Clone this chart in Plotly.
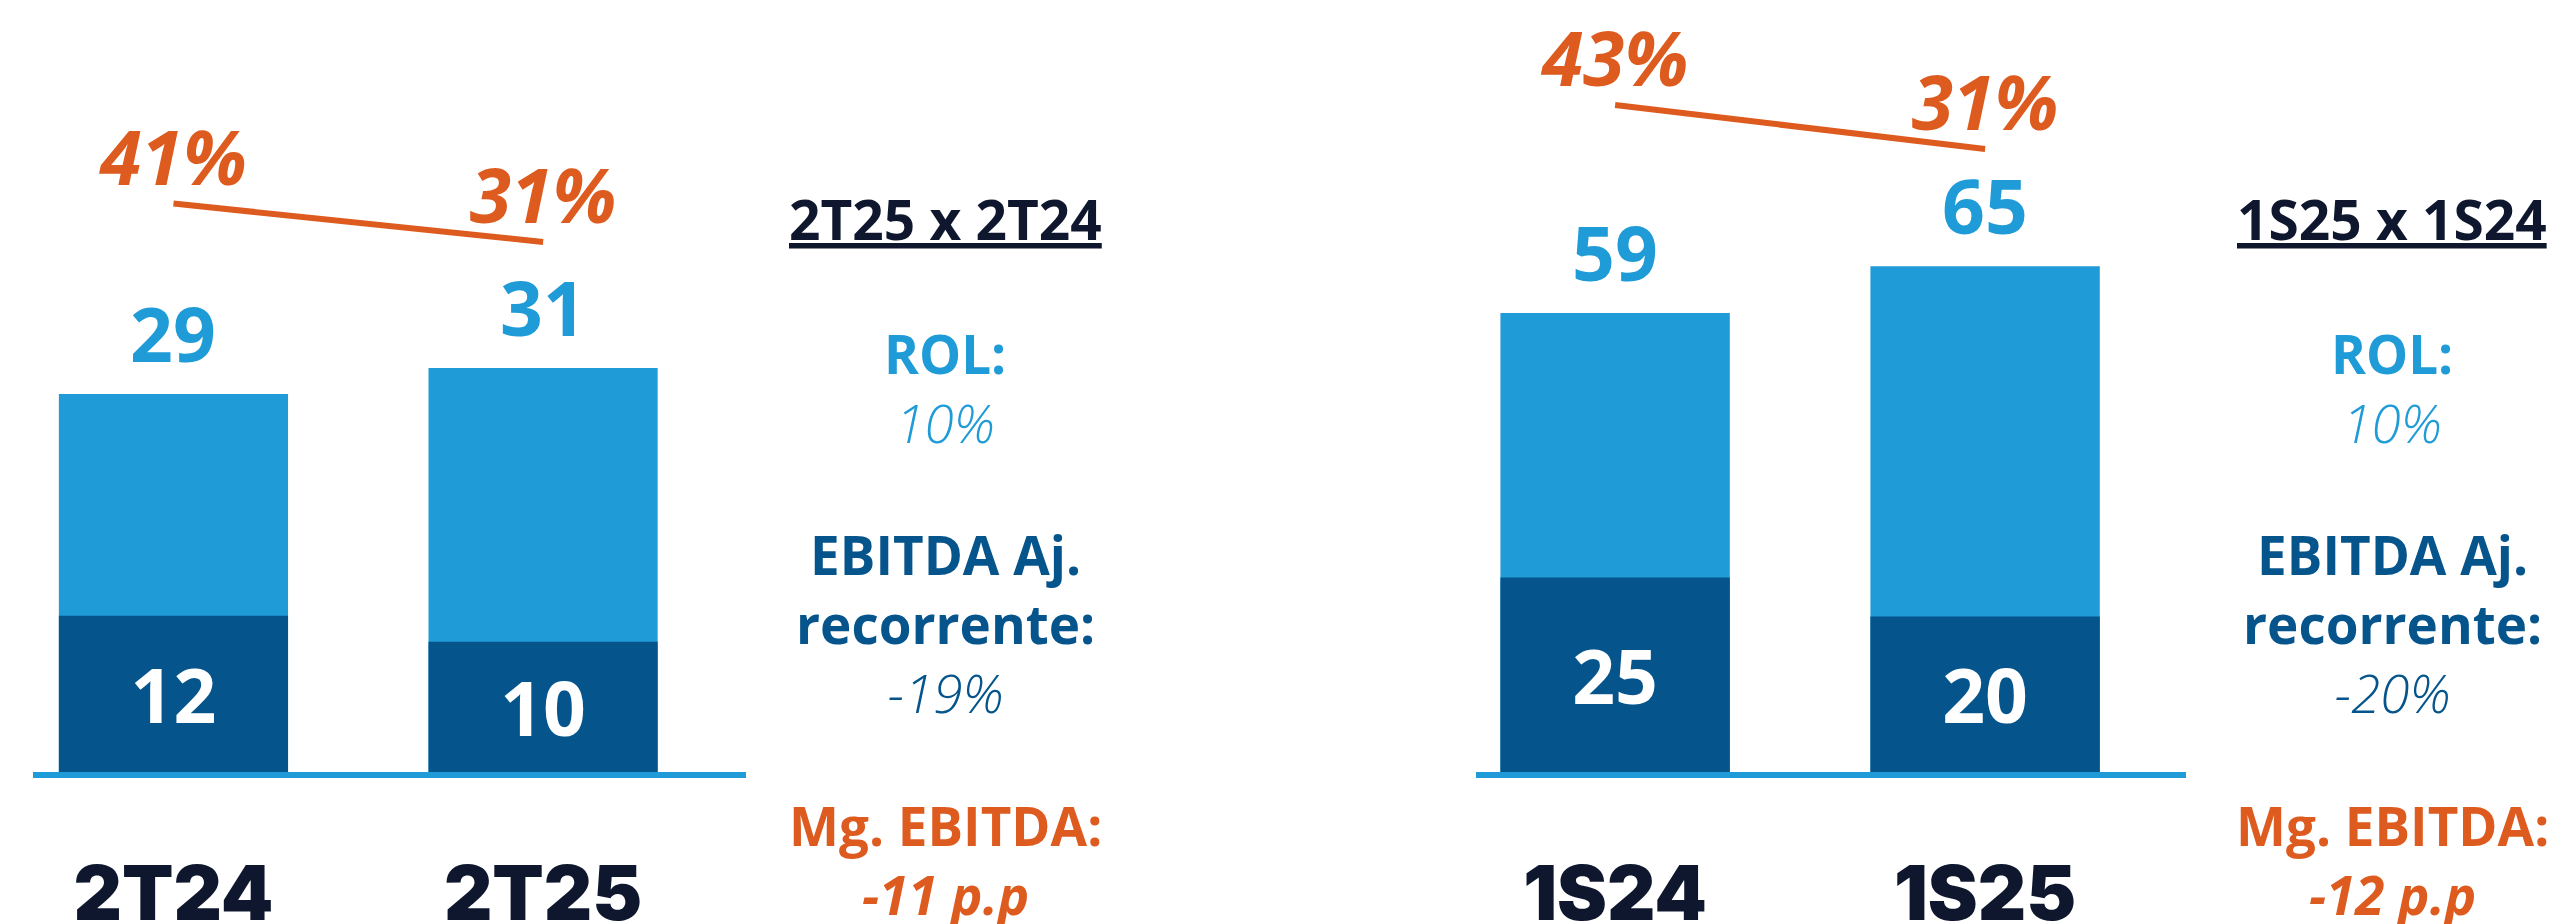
import plotly.graph_objects as go

# dados trimestrais (2T) e semestrais (1S), R$ mi
periodos_tri = ["2T24", "2T25"]
rol_tri = [29, 31]
ebitda_tri = [12, 10]
margem_tri = [41, 31]

periodos_sem = ["1S24", "1S25"]
rol_sem = [59, 65]
ebitda_sem = [25, 20]
margem_sem = [43, 31]

# comparativos (coluna de texto)
titulo_tri = "2T25 x 2T24"
var_rol_tri = "10%"
var_ebitda_tri = "-19%"
var_margem_tri = "-11 p.p"

titulo_sem = "1S25 x 1S24"
var_rol_sem = "10%"
var_ebitda_sem = "-20%"
var_margem_sem = "-12 p.p"

AZUL_CLARO = "#1F9BD7"
AZUL_ESCURO = "#05548C"
LARANJA = "#DE5B1F"
MARINHO = "#0E172D"
FONTE = "Open Sans"

# a pagina tem margem de 8px no body: a figura fica 8px deslocada
OFF = 8
W, H = 2565 - OFF, 924 - OFF


def px_x(x):
    return (x - OFF) / W


def px_y(y):
    return 1 - (y - OFF) / H


def add_painel(fig, periodos, rol, ebitda, margem, xa, ya, ya2):
    """barras sobrepostas (ROL total e EBITDA) + linha da margem em eixo proprio"""
    xref = xa.replace("axis", "")
    yref = ya.replace("axis", "")
    yref2 = ya2.replace("axis", "")
    fig.add_trace(go.Bar(x=periodos, y=rol, width=0.62, marker=dict(color=AZUL_CLARO, line_width=0),
                         xaxis=xref, yaxis=yref, hoverinfo="skip"))
    fig.add_trace(go.Bar(x=periodos, y=ebitda, width=0.62, marker=dict(color=AZUL_ESCURO, line_width=0),
                         text=ebitda, textposition="inside", insidetextanchor="middle", textangle=0,
                         textfont=dict(family=FONTE, size=75, color="white", weight="bold"),
                         xaxis=xref, yaxis=yref, hoverinfo="skip"))
    fig.add_trace(go.Scatter(x=periodos, y=margem, mode="lines+text", line=dict(color=LARANJA, width=6),
                             texttemplate="%{y}%", textposition="top center", cliponaxis=False,
                             textfont=dict(family=FONTE, size=75, color=LARANJA, weight="bold", style="italic"),
                             xaxis=xref, yaxis=yref2, hoverinfo="skip"))
    # rotulos do total acima das barras
    for p, v in zip(periodos, rol):
        fig.add_annotation(x=p, y=v, xref=xref, yref=yref, text=str(v), showarrow=False,
                           yanchor="bottom", yshift=8,
                           font=dict(family=FONTE, size=75, color=AZUL_CLARO, weight="bold"))


def add_coluna(fig, xc, titulo, v_rol, v_ebitda, v_margem):
    leve = '<span style="font-weight:300"><i>%s</i></span>'
    blocos = [
        (218, "<u>" + titulo + "</u>", MARINHO, 55),
        (388, "ROL:<br>" + leve % v_rol, AZUL_CLARO, 53),
        (623, "EBITDA Aj.<br>recorrente:<br>" + leve % v_ebitda, AZUL_ESCURO, 53),
        (860, "Mg. EBITDA:<br><i>" + v_margem + "</i>", LARANJA, 53),
    ]
    for ypx, txt, cor, tam in blocos:
        fig.add_annotation(x=px_x(xc), y=px_y(ypx), xref="paper", yref="paper", text=txt,
                           showarrow=False, xanchor="center", yanchor="middle", align="center",
                           font=dict(family=FONTE, size=tam, color=cor, weight="bold"))


fig = go.Figure()
add_painel(fig, periodos_tri, rol_tri, ebitda_tri, margem_tri, "xaxis", "yaxis", "yaxis2")
add_painel(fig, periodos_sem, rol_sem, ebitda_sem, margem_sem, "xaxis3", "yaxis3", "yaxis4")
add_coluna(fig, 945, titulo_tri, var_rol_tri, var_ebitda_tri, var_margem_tri)
add_coluna(fig, 2392, titulo_sem, var_rol_sem, var_ebitda_sem, var_margem_sem)

base = px_y(772)
eixo_x = dict(showline=True, linecolor=AZUL_CLARO, linewidth=6, showgrid=False, zeroline=False,
              ticks="", ticklabelstandoff=52, automargin=False, fixedrange=True,
              tickfont=dict(family="Inter", size=75, color=MARINHO, weight=900))
eixo_y = dict(visible=False, fixedrange=True, automargin=False)

fig.update_layout(
    width=W, height=H,
    margin=dict(l=0, r=0, t=0, b=0),
    paper_bgcolor="white", plot_bgcolor="white",
    barmode="overlay", showlegend=False, hovermode=False,
    xaxis=dict(eixo_x, domain=[px_x(33), px_x(746)], range=[-0.38, 1.549], anchor="y"),
    yaxis=dict(eixo_y, domain=[base, 1], range=[0, 58.63], anchor="x"),
    yaxis2=dict(eixo_y, overlaying="y", range=[-106.7, 91.8], anchor="x"),
    xaxis3=dict(eixo_x, domain=[px_x(1476), px_x(2186)], range=[-0.376, 1.543], anchor="y3"),
    yaxis3=dict(eixo_y, domain=[base, 1], range=[0, 98.2], anchor="x3"),
    yaxis4=dict(eixo_y, overlaying="y3", range=[-138.9, 69.45], anchor="x3"),
)

fig.write_html("out.html")
